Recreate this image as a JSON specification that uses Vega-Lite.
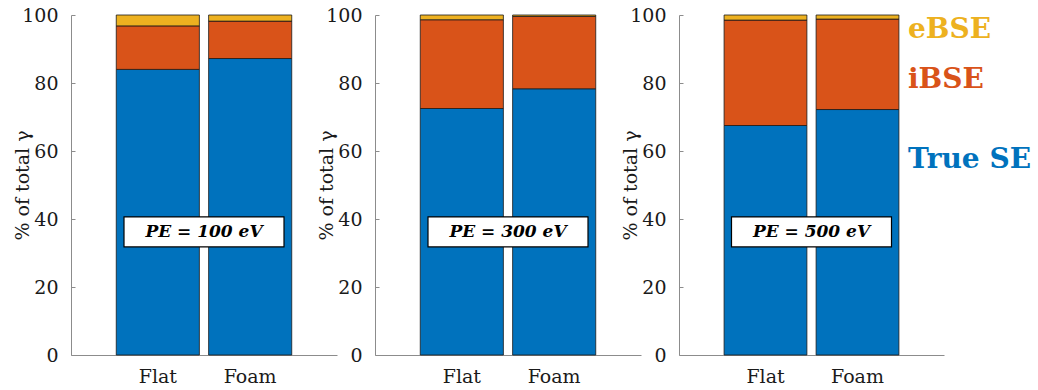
{
  "$schema": "https://vega.github.io/schema/vega-lite/v6.json",
  "background": "white",
  "padding": {"left": 13, "top": 6, "right": 0, "bottom": 0},
  "bounds": "flush",
  "spacing": 38,
  "config": {
    "view": {"stroke": null},
    "font": "DejaVu Serif",
    "text": {"font": "DejaVu Serif"},
    "axis": {
      "grid": false,
      "domainColor": "#8c8c8c",
      "domainWidth": 1,
      "tickColor": "#8c8c8c",
      "tickSize": -4,
      "labelColor": "#1a1a1a",
      "labelFont": "DejaVu Serif",
      "labelFontSize": 19,
      "titleFont": "DejaVu Serif",
      "titleFontSize": 19,
      "titleFontWeight": "normal",
      "titleColor": "#1a1a1a"
    }
  },
  "datasets": {
    "bars": [
      {"pe": 100, "surface": "Flat", "component": "True SE", "share": 84.0},
      {"pe": 100, "surface": "Flat", "component": "iBSE", "share": 12.8},
      {"pe": 100, "surface": "Flat", "component": "eBSE", "share": 3.2},
      {"pe": 100, "surface": "Foam", "component": "True SE", "share": 87.2},
      {"pe": 100, "surface": "Foam", "component": "iBSE", "share": 11.0},
      {"pe": 100, "surface": "Foam", "component": "eBSE", "share": 1.8},
      {"pe": 300, "surface": "Flat", "component": "True SE", "share": 72.5},
      {"pe": 300, "surface": "Flat", "component": "iBSE", "share": 26.1},
      {"pe": 300, "surface": "Flat", "component": "eBSE", "share": 1.4},
      {"pe": 300, "surface": "Foam", "component": "True SE", "share": 78.3},
      {"pe": 300, "surface": "Foam", "component": "iBSE", "share": 21.3},
      {"pe": 300, "surface": "Foam", "component": "eBSE", "share": 0.4},
      {"pe": 500, "surface": "Flat", "component": "True SE", "share": 67.5},
      {"pe": 500, "surface": "Flat", "component": "iBSE", "share": 31.0},
      {"pe": 500, "surface": "Flat", "component": "eBSE", "share": 1.5},
      {"pe": 500, "surface": "Foam", "component": "True SE", "share": 72.2},
      {"pe": 500, "surface": "Foam", "component": "iBSE", "share": 26.6},
      {"pe": 500, "surface": "Foam", "component": "eBSE", "share": 1.2}
    ],
    "notes": [
      {"pe": 100, "note": "PE = 100 eV"},
      {"pe": 300, "note": "PE = 300 eV"},
      {"pe": 500, "note": "PE = 500 eV"}
    ],
    "keys": [
      {"component": "eBSE"},
      {"component": "iBSE"},
      {"component": "True SE"}
    ]
  },
  "hconcat": [
    {
      "width": 266,
      "height": 340,
      "resolve": {"scale": {"x": "independent"}},
      "layer": [
        {
          "data": {"name": "bars"},
          "transform": [
            {"filter": "datum.pe === 100"},
            {"calculate": "indexof(['True SE', 'iBSE', 'eBSE'], datum.component)", "as": "stackRank"}
          ],
          "mark": {"type": "bar", "stroke": "#1a1a1a", "strokeWidth": 0.8},
          "encoding": {
            "x": {"field": "surface", "type": "nominal", "sort": ["Flat", "Foam"],
                  "scale": {"paddingInner": 0.1, "paddingOuter": 0.49},
                  "axis": {"title": null, "labelAngle": 0, "labelPadding": 16}},
            "y": {"field": "share", "type": "quantitative", "stack": "zero",
                  "scale": {"domain": [0, 100], "nice": false},
                  "axis": {"title": "% of total γ", "values": [0, 20, 40, 60, 80, 100], "labelPadding": 17,
                           "titleX": -43, "titleY": 170, "titleAngle": -90, "titleAlign": "center", "titleBaseline": "alphabetic"}},
            "color": {"field": "component", "type": "nominal",
                      "scale": {"domain": ["True SE", "iBSE", "eBSE"], "range": ["#0072BD", "#D95319", "#EDB120"]},
                      "legend": null},
            "order": {"field": "stackRank", "type": "quantitative", "sort": "ascending"}
          }
        },
        {
          "data": {"name": "notes"},
          "transform": [{"filter": "datum.pe === 100"}],
          "mark": {"type": "point", "shape": "M-1,-0.1875H1V0.1875H-1Z", "size": 25600, "filled": true,
                   "fill": "white", "stroke": "black", "strokeWidth": 1.2, "opacity": 1},
          "encoding": {
            "x": {"datum": 0.5, "type": "quantitative", "scale": {"domain": [0, 1]}, "axis": null},
            "y": {"datum": 36.2, "type": "quantitative"}
          }
        },
        {
          "data": {"name": "notes"},
          "transform": [{"filter": "datum.pe === 100"}],
          "mark": {"type": "text", "fontSize": 17, "fontWeight": "bold", "fontStyle": "italic", "color": "black", "baseline": "middle"},
          "encoding": {
            "x": {"datum": 0.5, "type": "quantitative", "scale": {"domain": [0, 1]}, "axis": null},
            "y": {"datum": 36.2, "type": "quantitative"},
            "text": {"field": "note"}
          }
        }
      ]
    },
    {
      "width": 266,
      "height": 340,
      "resolve": {"scale": {"x": "independent"}},
      "layer": [
        {
          "data": {"name": "bars"},
          "transform": [
            {"filter": "datum.pe === 300"},
            {"calculate": "indexof(['True SE', 'iBSE', 'eBSE'], datum.component)", "as": "stackRank"}
          ],
          "mark": {"type": "bar", "stroke": "#1a1a1a", "strokeWidth": 0.8},
          "encoding": {
            "x": {"field": "surface", "type": "nominal", "sort": ["Flat", "Foam"],
                  "scale": {"paddingInner": 0.1, "paddingOuter": 0.49},
                  "axis": {"title": null, "labelAngle": 0, "labelPadding": 16}},
            "y": {"field": "share", "type": "quantitative", "stack": "zero",
                  "scale": {"domain": [0, 100], "nice": false},
                  "axis": {"title": "% of total γ", "values": [0, 20, 40, 60, 80, 100], "labelPadding": 17,
                           "titleX": -43, "titleY": 170, "titleAngle": -90, "titleAlign": "center", "titleBaseline": "alphabetic"}},
            "color": {"field": "component", "type": "nominal",
                      "scale": {"domain": ["True SE", "iBSE", "eBSE"], "range": ["#0072BD", "#D95319", "#EDB120"]},
                      "legend": null},
            "order": {"field": "stackRank", "type": "quantitative", "sort": "ascending"}
          }
        },
        {
          "data": {"name": "notes"},
          "transform": [{"filter": "datum.pe === 300"}],
          "mark": {"type": "point", "shape": "M-1,-0.1875H1V0.1875H-1Z", "size": 25600, "filled": true,
                   "fill": "white", "stroke": "black", "strokeWidth": 1.2, "opacity": 1},
          "encoding": {
            "x": {"datum": 0.5, "type": "quantitative", "scale": {"domain": [0, 1]}, "axis": null},
            "y": {"datum": 36.2, "type": "quantitative"}
          }
        },
        {
          "data": {"name": "notes"},
          "transform": [{"filter": "datum.pe === 300"}],
          "mark": {"type": "text", "fontSize": 17, "fontWeight": "bold", "fontStyle": "italic", "color": "black", "baseline": "middle"},
          "encoding": {
            "x": {"datum": 0.5, "type": "quantitative", "scale": {"domain": [0, 1]}, "axis": null},
            "y": {"datum": 36.2, "type": "quantitative"},
            "text": {"field": "note"}
          }
        }
      ]
    },
    {
      "width": 265,
      "height": 340,
      "resolve": {"scale": {"x": "independent"}},
      "layer": [
        {
          "data": {"name": "bars"},
          "transform": [
            {"filter": "datum.pe === 500"},
            {"calculate": "indexof(['True SE', 'iBSE', 'eBSE'], datum.component)", "as": "stackRank"}
          ],
          "mark": {"type": "bar", "stroke": "#1a1a1a", "strokeWidth": 0.8},
          "encoding": {
            "x": {"field": "surface", "type": "nominal", "sort": ["Flat", "Foam"],
                  "scale": {"paddingInner": 0.1, "paddingOuter": 0.49},
                  "axis": {"title": null, "labelAngle": 0, "labelPadding": 16}},
            "y": {"field": "share", "type": "quantitative", "stack": "zero",
                  "scale": {"domain": [0, 100], "nice": false},
                  "axis": {"title": "% of total γ", "values": [0, 20, 40, 60, 80, 100], "labelPadding": 17,
                           "titleX": -43, "titleY": 170, "titleAngle": -90, "titleAlign": "center", "titleBaseline": "alphabetic"}},
            "color": {"field": "component", "type": "nominal",
                      "scale": {"domain": ["True SE", "iBSE", "eBSE"], "range": ["#0072BD", "#D95319", "#EDB120"]},
                      "legend": null},
            "order": {"field": "stackRank", "type": "quantitative", "sort": "ascending"}
          }
        },
        {
          "data": {"name": "notes"},
          "transform": [{"filter": "datum.pe === 500"}],
          "mark": {"type": "point", "shape": "M-1,-0.1875H1V0.1875H-1Z", "size": 25600, "filled": true,
                   "fill": "white", "stroke": "black", "strokeWidth": 1.2, "opacity": 1},
          "encoding": {
            "x": {"datum": 0.5, "type": "quantitative", "scale": {"domain": [0, 1]}, "axis": null},
            "y": {"datum": 36.2, "type": "quantitative"}
          }
        },
        {
          "data": {"name": "notes"},
          "transform": [{"filter": "datum.pe === 500"}],
          "mark": {"type": "text", "fontSize": 17, "fontWeight": "bold", "fontStyle": "italic", "color": "black", "baseline": "middle"},
          "encoding": {
            "x": {"datum": 0.5, "type": "quantitative", "scale": {"domain": [0, 1]}, "axis": null},
            "y": {"datum": 36.2, "type": "quantitative"},
            "text": {"field": "note"}
          }
        },
        {
          "data": {"name": "keys"},
          "transform": [{"filter": "datum.component === 'eBSE'"}],
          "mark": {"type": "text", "fontSize": 28, "fontWeight": "bold", "align": "left", "baseline": "alphabetic"},
          "encoding": {
            "x": {"datum": 0.864, "type": "quantitative", "scale": {"domain": [0, 1]}, "axis": null},
            "y": {"datum": 93.2, "type": "quantitative"},
            "text": {"field": "component"},
            "color": {"field": "component", "type": "nominal", "legend": null}
          }
        },
        {
          "data": {"name": "keys"},
          "transform": [{"filter": "datum.component === 'iBSE'"}],
          "mark": {"type": "text", "fontSize": 28, "fontWeight": "bold", "align": "left", "baseline": "alphabetic"},
          "encoding": {
            "x": {"datum": 0.864, "type": "quantitative", "scale": {"domain": [0, 1]}, "axis": null},
            "y": {"datum": 78.5, "type": "quantitative"},
            "text": {"field": "component"},
            "color": {"field": "component", "type": "nominal", "legend": null}
          }
        },
        {
          "data": {"name": "keys"},
          "transform": [{"filter": "datum.component === 'True SE'"}],
          "mark": {"type": "text", "fontSize": 28, "fontWeight": "bold", "align": "left", "baseline": "alphabetic"},
          "encoding": {
            "x": {"datum": 0.864, "type": "quantitative", "scale": {"domain": [0, 1]}, "axis": null},
            "y": {"datum": 55.0, "type": "quantitative"},
            "text": {"field": "component"},
            "color": {"field": "component", "type": "nominal", "legend": null}
          }
        }
      ]
    }
  ]
}
